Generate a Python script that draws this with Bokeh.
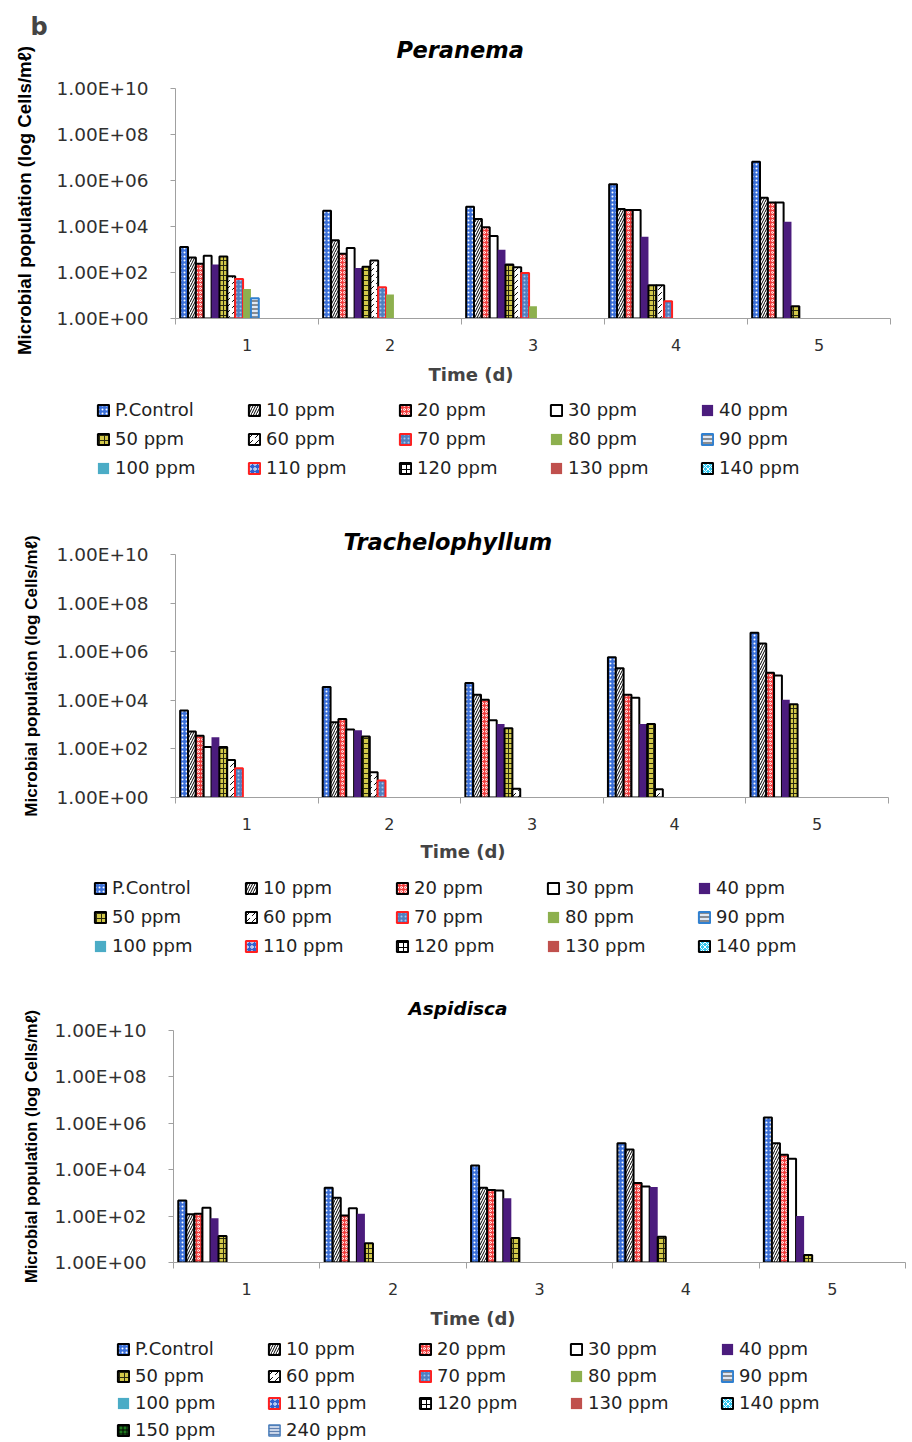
from bokeh.plotting import figure
from bokeh.models import Range1d, FixedTicker, Legend, LegendItem, Title, ColumnDataSource
from bokeh.layouts import column, row
from bokeh.transform import dodge
from bokeh.embed import file_html
from bokeh.resources import INLINE

days = [1, 2, 3, 4, 5]
day_labels = ["1", "2", "3", "4", "5"]
series_names = ["P.Control", "10 ppm", "20 ppm", "30 ppm", "40 ppm", "50 ppm", "60 ppm",
                "70 ppm", "80 ppm", "90 ppm", "100 ppm", "110 ppm", "120 ppm", "130 ppm",
                "140 ppm", "150 ppm", "240 ppm"]
y_ticks = [1e0, 1e2, 1e4, 1e6, 1e8, 1e10]
y_tick_labels = ["1.00E+00", "1.00E+02", "1.00E+04", "1.00E+06", "1.00E+08", "1.00E+10"]

# Peranema (cells/ml per day, 0 = no bar)
per_pc = [1.3e3, 4.8e4, 7.2e4, 6.8e5, 6.5e6]
per_10 = [4.5e2, 2.5e3, 2.1e4, 5.8e4, 1.8e5]
per_20 = [2.4e2, 6.5e2, 9.3e3, 5.2e4, 1.1e5]
per_30 = [5.4e2, 1.15e3, 3.9e3, 5.2e4, 1.1e5]
per_40 = [2.2e2, 1.55e2, 9.8e2, 3.6e3, 1.6e4]
per_50 = [5.0e2, 1.8e2, 2.2e2, 28, 3.4]
per_60 = [68, 3.3e2, 1.7e2, 28, 0]
per_70 = [52, 23, 95, 5.6, 0]
per_80 = [19, 11, 3.4, 0, 0]
per_90 = [7.6, 0, 0, 0, 0]

# Trachelophyllum
tra_pc = [3.8e3, 3.5e4, 5.2e4, 5.9e5, 6.0e6]
tra_10 = [5.2e2, 1.25e3, 1.7e4, 2.1e5, 2.2e6]
tra_20 = [3.5e2, 1.7e3, 1.05e4, 1.7e4, 1.35e5]
tra_30 = [1.2e2, 6.3e2, 1.5e3, 1.26e4, 1.05e5]
tra_40 = [3.0e2, 5.8e2, 1.07e3, 1.07e3, 1.05e4]
tra_50 = [1.2e2, 3.2e2, 7.1e2, 1.07e3, 6.8e3]
tra_60 = [35, 11, 2.3, 2.2, 0]
tra_70 = [16, 5.0, 0, 0, 0]

# Aspidisca
asp_pc = [4.7e2, 1.66e3, 1.5e4, 1.38e5, 1.8e6]
asp_10 = [1.2e2, 6.2e2, 1.66e3, 7.4e4, 1.38e5]
asp_20 = [1.26e2, 1.07e2, 1.35e3, 2.7e3, 4.4e4]
asp_30 = [2.3e2, 2.2e2, 1.26e3, 1.9e3, 3.0e4]
asp_40 = [81, 1.26e2, 5.9e2, 1.8e3, 1.0e2]
asp_50 = [14, 6.8, 11.5, 13, 2.1]

STY = [
    dict(fill_color="#3A6FD8", hatch_pattern="dot", hatch_color="white", hatch_scale=4, hatch_weight=1.5, line_color="black", line_width=2),
    dict(fill_color="white", hatch_pattern="right_diagonal_line", hatch_color="black", hatch_scale=5, hatch_weight=1, line_color="black", line_width=2),
    dict(fill_color="#F23C3C", hatch_pattern="ring", hatch_color="white", hatch_scale=4, hatch_weight=1, line_color="black", line_width=2),
    dict(fill_color="white", line_color="black", line_width=2),
    dict(fill_color="#4B1C7D", line_color=None),
    dict(fill_color="#D2C84A", hatch_pattern="cross", hatch_color="#2A2A10", hatch_scale=5, hatch_weight=1, line_color="black", line_width=2),
    dict(fill_color="white", hatch_pattern="right_diagonal_dash", hatch_color="black", hatch_scale=6, hatch_weight=1, line_color="black", line_width=2),
    dict(fill_color="#4F7FC0", hatch_pattern="dot", hatch_color="#A8C8EE", hatch_scale=4, hatch_weight=1, line_color="#FF2020", line_width=2),
    dict(fill_color="#8DB04E", line_color=None),
    dict(fill_color="#E0E8F4", hatch_pattern="horizontal_line", hatch_color="#303030", hatch_scale=4, hatch_weight=1, line_color="#3080D0", line_width=2),
    dict(fill_color="#4BACC6", line_color=None),
    dict(fill_color="#2F5FD0", hatch_pattern="ring", hatch_color="white", hatch_scale=5, hatch_weight=1, line_color="#FF2020", line_width=2),
    dict(fill_color="white", hatch_pattern="cross", hatch_color="black", hatch_scale=5, hatch_weight=1, line_color="black", line_width=2),
    dict(fill_color="#C0504D", line_color=None),
    dict(fill_color="#33C8F0", hatch_pattern="diagonal_cross", hatch_color="white", hatch_scale=5, hatch_weight=1, line_color="black", line_width=2),
    dict(fill_color="#1E7A1E", hatch_pattern="cross", hatch_color="black", hatch_scale=4, hatch_weight=1, line_color="black", line_width=2),
    dict(fill_color="#C8D4E8", hatch_pattern="horizontal_line", hatch_color="#6080B0", hatch_scale=3, hatch_weight=1, line_color="#4A7EBB", line_width=1.5),
]

BW = 0.055
PAD = (1 - 17 * BW) / 2
YLABEL = "Microbial population (log Cells/m\u2113)"
W = 912
STRIP = 50
TITLE_FONT = dict(text_font="DejaVu Sans", text_font_style="bold italic", text_color="black")


def blank(width, height, **kw):
    f = figure(width=width, height=height, x_range=Range1d(0, 1), y_range=Range1d(0, 1),
               output_backend="svg", toolbar_location=None, x_axis_location=None,
               y_axis_location=None, frame_align=False, **kw)
    f.outline_line_color = None
    f.xgrid.visible = False
    f.ygrid.visible = False
    return f


def chart(name, series_vals, width, height, top, frame_h, left, right, title_size, title_off,
          title_standoff, time_off, time_standoff, ylabel_size, ylabel_standoff):
    p = figure(width=width, height=height, x_range=Range1d(0.5, 5.5), y_range=Range1d(1, 1e10),
               y_axis_type="log", output_backend="svg", toolbar_location=None,
               min_border_top=top, min_border_bottom=height - top - frame_h,
               min_border_left=left, min_border_right=right, frame_align=False,
               title=name, title_location="above" if name else None)
    p.outline_line_color = None
    p.xgrid.visible = False
    p.ygrid.visible = False
    if name:
        p.title.align = "left"
        p.title.offset = title_off
        p.title.standoff = title_standoff
        p.title.text_font_size = title_size
        for k, v in TITLE_FONT.items():
            setattr(p.title, k, v)

    ya = p.yaxis[0]
    ya.ticker = FixedTicker(ticks=y_ticks, minor_ticks=[])
    ya.major_label_overrides = dict(zip(y_ticks, y_tick_labels))
    ya.major_tick_out = 5
    ya.major_tick_in = 0
    ya.minor_tick_line_color = None
    ya.axis_line_color = "#A0A0A0"
    ya.major_tick_line_color = "#A0A0A0"
    ya.major_label_standoff = 22
    ya.major_label_text_font = "DejaVu Sans"
    ya.major_label_text_font_size = "18.5px"
    ya.major_label_text_color = "#303030"
    if ylabel_size:
        ya.axis_label = YLABEL
        ya.axis_label_text_font = "Liberation Sans"
        ya.axis_label_text_font_style = "bold"
        ya.axis_label_text_font_size = ylabel_size
        ya.axis_label_text_color = "black"
        ya.axis_label_standoff = ylabel_standoff

    xa = p.xaxis[0]
    xa.ticker = FixedTicker(ticks=days, minor_ticks=[d - 0.5 for d in days] + [days[-1] + 0.5])
    xa.major_label_overrides = dict(zip(days, day_labels))
    xa.major_tick_out = 0
    xa.major_tick_in = 0
    xa.minor_tick_out = 6
    xa.minor_tick_in = 0
    xa.minor_tick_line_color = "#A0A0A0"
    xa.axis_line_color = "#A0A0A0"
    xa.major_label_standoff = 14
    xa.major_label_text_font = "DejaVu Sans"
    xa.major_label_text_font_size = "16px"
    xa.major_label_text_color = "#303030"

    p.add_layout(Title(text="Time (d)", align="left", offset=time_off, standoff=time_standoff,
                       text_font="DejaVu Sans", text_font_style="bold", text_font_size="18px"), "below")

    for i, vals in enumerate(series_vals):
        xs = [d for d, v in zip(days, vals) if v > 0]
        ys = [v for v in vals if v > 0]
        src = ColumnDataSource(dict(day=xs, top=ys))
        p.vbar(x=dodge("day", -0.5 + PAD + (i + 0.5) * BW, range=p.x_range), top="top", bottom=1,
               width=BW, source=src, **STY[i])
    return p


def legend_fig(n_items, height, left, top, spacing, lab_w):
    q = blank(W, height, min_border_left=left, min_border_top=top,
              min_border_right=0, min_border_bottom=0)
    items = []
    for i in range(n_items):
        # placeholder swatch source, hidden under the (opaque) legend box
        r = q.vbar(x=[0.3], top=[0.9], bottom=[0.85], width=0.001, **STY[i])
        items.append(LegendItem(label=series_names[i], renderers=[r]))
    leg = Legend(items=items, orientation="horizontal", ncols=5, location="top_left",
                 glyph_width=14, glyph_height=14, label_standoff=5, label_width=lab_w, label_height=17,
                 spacing=spacing, padding=0, margin=0, border_line_color=None,
                 background_fill_color="white", background_fill_alpha=1.0,
                 label_text_font="DejaVu Sans",
                 label_text_font_size="18px", label_text_color="#222222")
    q.add_layout(leg, "center")
    return q


# left strip of the first panel: panel letter and y-axis title
strip = blank(STRIP, 392, title="b", min_border_top=0, min_border_bottom=42,
              min_border_left=0, min_border_right=0)
strip.title.align = "left"
strip.title.offset = -15
strip.title.standoff = 20
strip.title.text_font = "DejaVu Sans"
strip.title.text_font_style = "bold"
strip.title.text_font_size = "24px"
strip.add_layout(Title(text=YLABEL, align="center", standoff=22, text_font="Liberation Sans",
                       text_font_style="bold", text_font_size="18.7px", text_color="black"), "left")

hp = blank(W - STRIP, 62, title="Peranema", title_location="below",
           min_border_top=0, min_border_bottom=0, min_border_left=0, min_border_right=0)
hp.title.align = "left"
hp.title.offset = 346
hp.title.standoff = 0
hp.title.text_font_size = "22.5px"
for k, v in TITLE_FONT.items():
    setattr(hp.title, k, v)

c1 = chart(None,
           [per_pc, per_10, per_20, per_30, per_40, per_50, per_60, per_70, per_80, per_90],
           W - STRIP, 330, 26, 231, 175 - STRIP, 22, "22.5px", 0, 0, 253, 16, None, 0)
l1 = legend_fig(15, 93, 96, 7, 8, 124)

c2 = chart("Trachelophyllum",
           [tra_pc, tra_10, tra_20, tra_30, tra_40, tra_50, tra_60, tra_70],
           W, 385, 69, 243, 175, 24, "22.5px", 168, 0, 245, 12, "17px", 13)
l2 = legend_fig(15, 90, 93, 7, 8, 124)

c3 = chart("Aspidisca",
           [asp_pc, asp_10, asp_20, asp_30, asp_40, asp_50],
           W, 376, 70, 232, 173, 7, "18.5px", 235, 24, 257, 16, "16.5px", 12)
l3 = legend_fig(17, 104, 116, 2, 6, 126)

top_block = row(strip, column(hp, c1, spacing=0), spacing=0)
layout = column(top_block, l1, c2, l2, c3, l3, spacing=0)
open("out.html", "w").write(file_html(layout, INLINE))
